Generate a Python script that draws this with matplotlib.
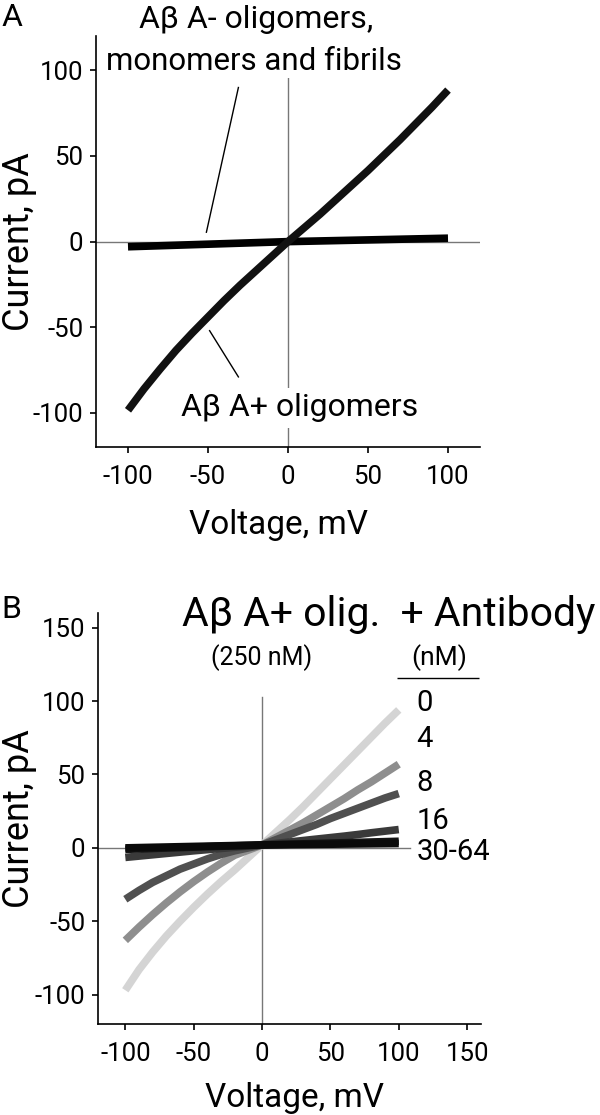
import numpy as np
import matplotlib
matplotlib.use("Agg")
import matplotlib.pyplot as plt

# Panel A: I-V curves
volt_a = [-100, -90, -80, -70, -60, -50, -40, -30, -20, -10, 0, 10, 20, 30, 40, 50, 60, 70, 80, 90, 100]
amp_plus = [-98.5, -86, -74.5, -63.5, -53.5, -44, -34.5, -25.5, -17, -8.5, 0, 8, 16, 24.5, 33, 41.5, 50.5, 59.5, 69, 78.5, 88.5]
volt_minus = [-100, -50, 0, 50, 100]
amp_minus = [-3, -1.5, 0, 1, 2]

# Panel B: Abeta A+ oligomers (250 nM) + antibody
volt_b = [-100, -90, -80, -70, -60, -50, -40, -30, -20, -10, 0, 10, 20, 30, 40, 50, 60, 70, 80, 90, 100]
amp_b = {
    "0": [-97, -83, -71, -60, -50, -40.5, -31.5, -23, -15, -6.5, 2, 10.5, 19, 28, 37.5, 47, 56.5, 66, 75.5, 85, 94],
    "4": [-63, -54, -45.5, -37.5, -30, -23, -16.5, -10.5, -5, -1.5, 2, 7, 12, 17, 22.5, 28, 33.5, 39.5, 45, 51, 57],
    "8": [-35, -29, -23.5, -19, -14.5, -11, -7.5, -4.5, -2, 0, 2, 5.5, 9, 12.5, 16, 20, 23.5, 27, 30.5, 34, 37],
    "16": [-6.5, -5.6, -4.7, -3.8, -2.9, -2, -1.2, -0.4, 0.4, 1.2, 2, 3, 4, 5, 6, 7, 8, 9.1, 10.3, 11.4, 12.5],
    "30": [-1, -0.7, -0.4, -0.1, 0.2, 0.5, 0.8, 1.1, 1.4, 1.7, 2, 2.25, 2.5, 2.75, 3, 3.25, 3.5, 3.75, 4, 4.25, 4.5],
    "64": [0, 0.2, 0.4, 0.6, 0.8, 1, 1.2, 1.4, 1.6, 1.8, 2, 2.1, 2.2, 2.3, 2.4, 2.5, 2.6, 2.7, 2.8, 2.9, 3],
}
shades = {"0": "#d4d4d4", "4": "#8e8e8e", "8": "#505050", "16": "#3a3a3a", "30": "#141414", "64": "#0a0a0a"}
conc_labels = ["0", "4", "8", "16", "30-64"]
conc_label_y = [99, 74, 44, 18, -3]

plt.rcParams.update({
    "font.family": ["Roboto", "DejaVu Sans"],
    "font.size": 18,
    "axes.unicode_minus": False,
    "axes.linewidth": 1.2,
    "xtick.major.width": 1.2,
    "ytick.major.width": 1.2,
    "xtick.major.size": 4,
    "ytick.major.size": 4,
    "xtick.labelsize": 18.5,
    "ytick.labelsize": 18.5,
})

fig = plt.figure(figsize=(6, 11.15), dpi=100)
ax_a = fig.add_axes([0.16, 0.599, 0.64, 0.3686])
ax_b = fig.add_axes([0.1633, 0.0816, 0.638, 0.3686])

for ax in (ax_a, ax_b):
    ax.spines["top"].set_visible(False)
    ax.spines["right"].set_visible(False)
    ax.tick_params(axis="x", direction="out", pad=9)
    ax.tick_params(axis="y", direction="out", pad=5)

# ---- panel A
ax_a.axhline(0, color="#777777", lw=1, zorder=1)
ax_a.axvline(0, ymax=0.9, color="#777777", lw=1, zorder=1)
ax_a.plot(volt_minus, amp_minus, color="black", lw=5.5, solid_capstyle="butt", zorder=3)
ax_a.plot(volt_a, amp_plus, color="#111111", lw=5.5, solid_capstyle="butt", zorder=3)
ax_a.set_xlim(-120, 120)
ax_a.set_ylim(-120, 120)
ax_a.set_xticks([-100, -50, 0, 50, 100])
ax_a.set_yticks([-100, -50, 0, 50, 100])
ax_a.set_xlabel("Voltage, mV", fontsize=24)
ax_a.set_ylabel("Current, pA", fontsize=26)
ax_a.xaxis.set_label_coords(0.474, -0.15)
ax_a.yaxis.set_label_coords(-0.154, 0.5)

ax_a.text(-20, 130, "Aβ A- oligomers,", ha="center", va="center", fontsize=23)
ax_a.text(-21, 105, "monomers and fibrils", ha="center", va="center", fontsize=22.5,
          bbox=dict(facecolor="white", edgecolor="none", pad=1))
ax_a.plot([-31, -51], [90, 5.5], color="black", lw=1)
ax_a.plot([-49, -31], [-52, -79], color="black", lw=1)
ax_a.text(7, -97, "Aβ A+ oligomers", ha="center", va="center", fontsize=23, zorder=4,
          bbox=dict(facecolor="white", edgecolor="none", pad=4))

# ---- panel B
ax_b.axhline(0, xmax=0.814, color="#777777", lw=1, zorder=1)
ax_b.axvline(0, ymax=0.796, color="#777777", lw=1, zorder=1)
for key in ["0", "4", "8", "16", "30", "64"]:
    ax_b.plot(volt_b, amp_b[key], color=shades[key], lw=5.5, solid_capstyle="butt", zorder=3)
ax_b.set_xlim(-120, 160)
ax_b.set_ylim(-120, 160)
ax_b.set_xticks([-100, -50, 0, 50, 100, 150])
ax_b.set_yticks([-100, -50, 0, 50, 100, 150])
ax_b.set_xlabel("Voltage, mV", fontsize=24)
ax_b.set_ylabel("Current, pA", fontsize=26)
ax_b.xaxis.set_label_coords(0.514, -0.14)
ax_b.yaxis.set_label_coords(-0.159, 0.5)

ax_b.text(-58.5, 159, "Aβ A+ olig.  + Antibody", ha="left", va="center", fontsize=29.5)
ax_b.text(0, 129.5, "(250 nM)", ha="center", va="center", fontsize=18)
ax_b.text(129.5, 129.5, "(nM)", ha="center", va="center", fontsize=19)
ax_b.hlines(116, 99, 159, color="black", lw=1, clip_on=False)
for lab, ly in zip(conc_labels, conc_label_y):
    ax_b.text(113, ly, lab, ha="left", va="center", fontsize=21)

fig.text(0.003, 0.984, "A", fontsize=23, va="center", ha="left")
fig.text(0.003, 0.453, "B", fontsize=23, va="center", ha="left")

fig.savefig("out.png", dpi=100)
